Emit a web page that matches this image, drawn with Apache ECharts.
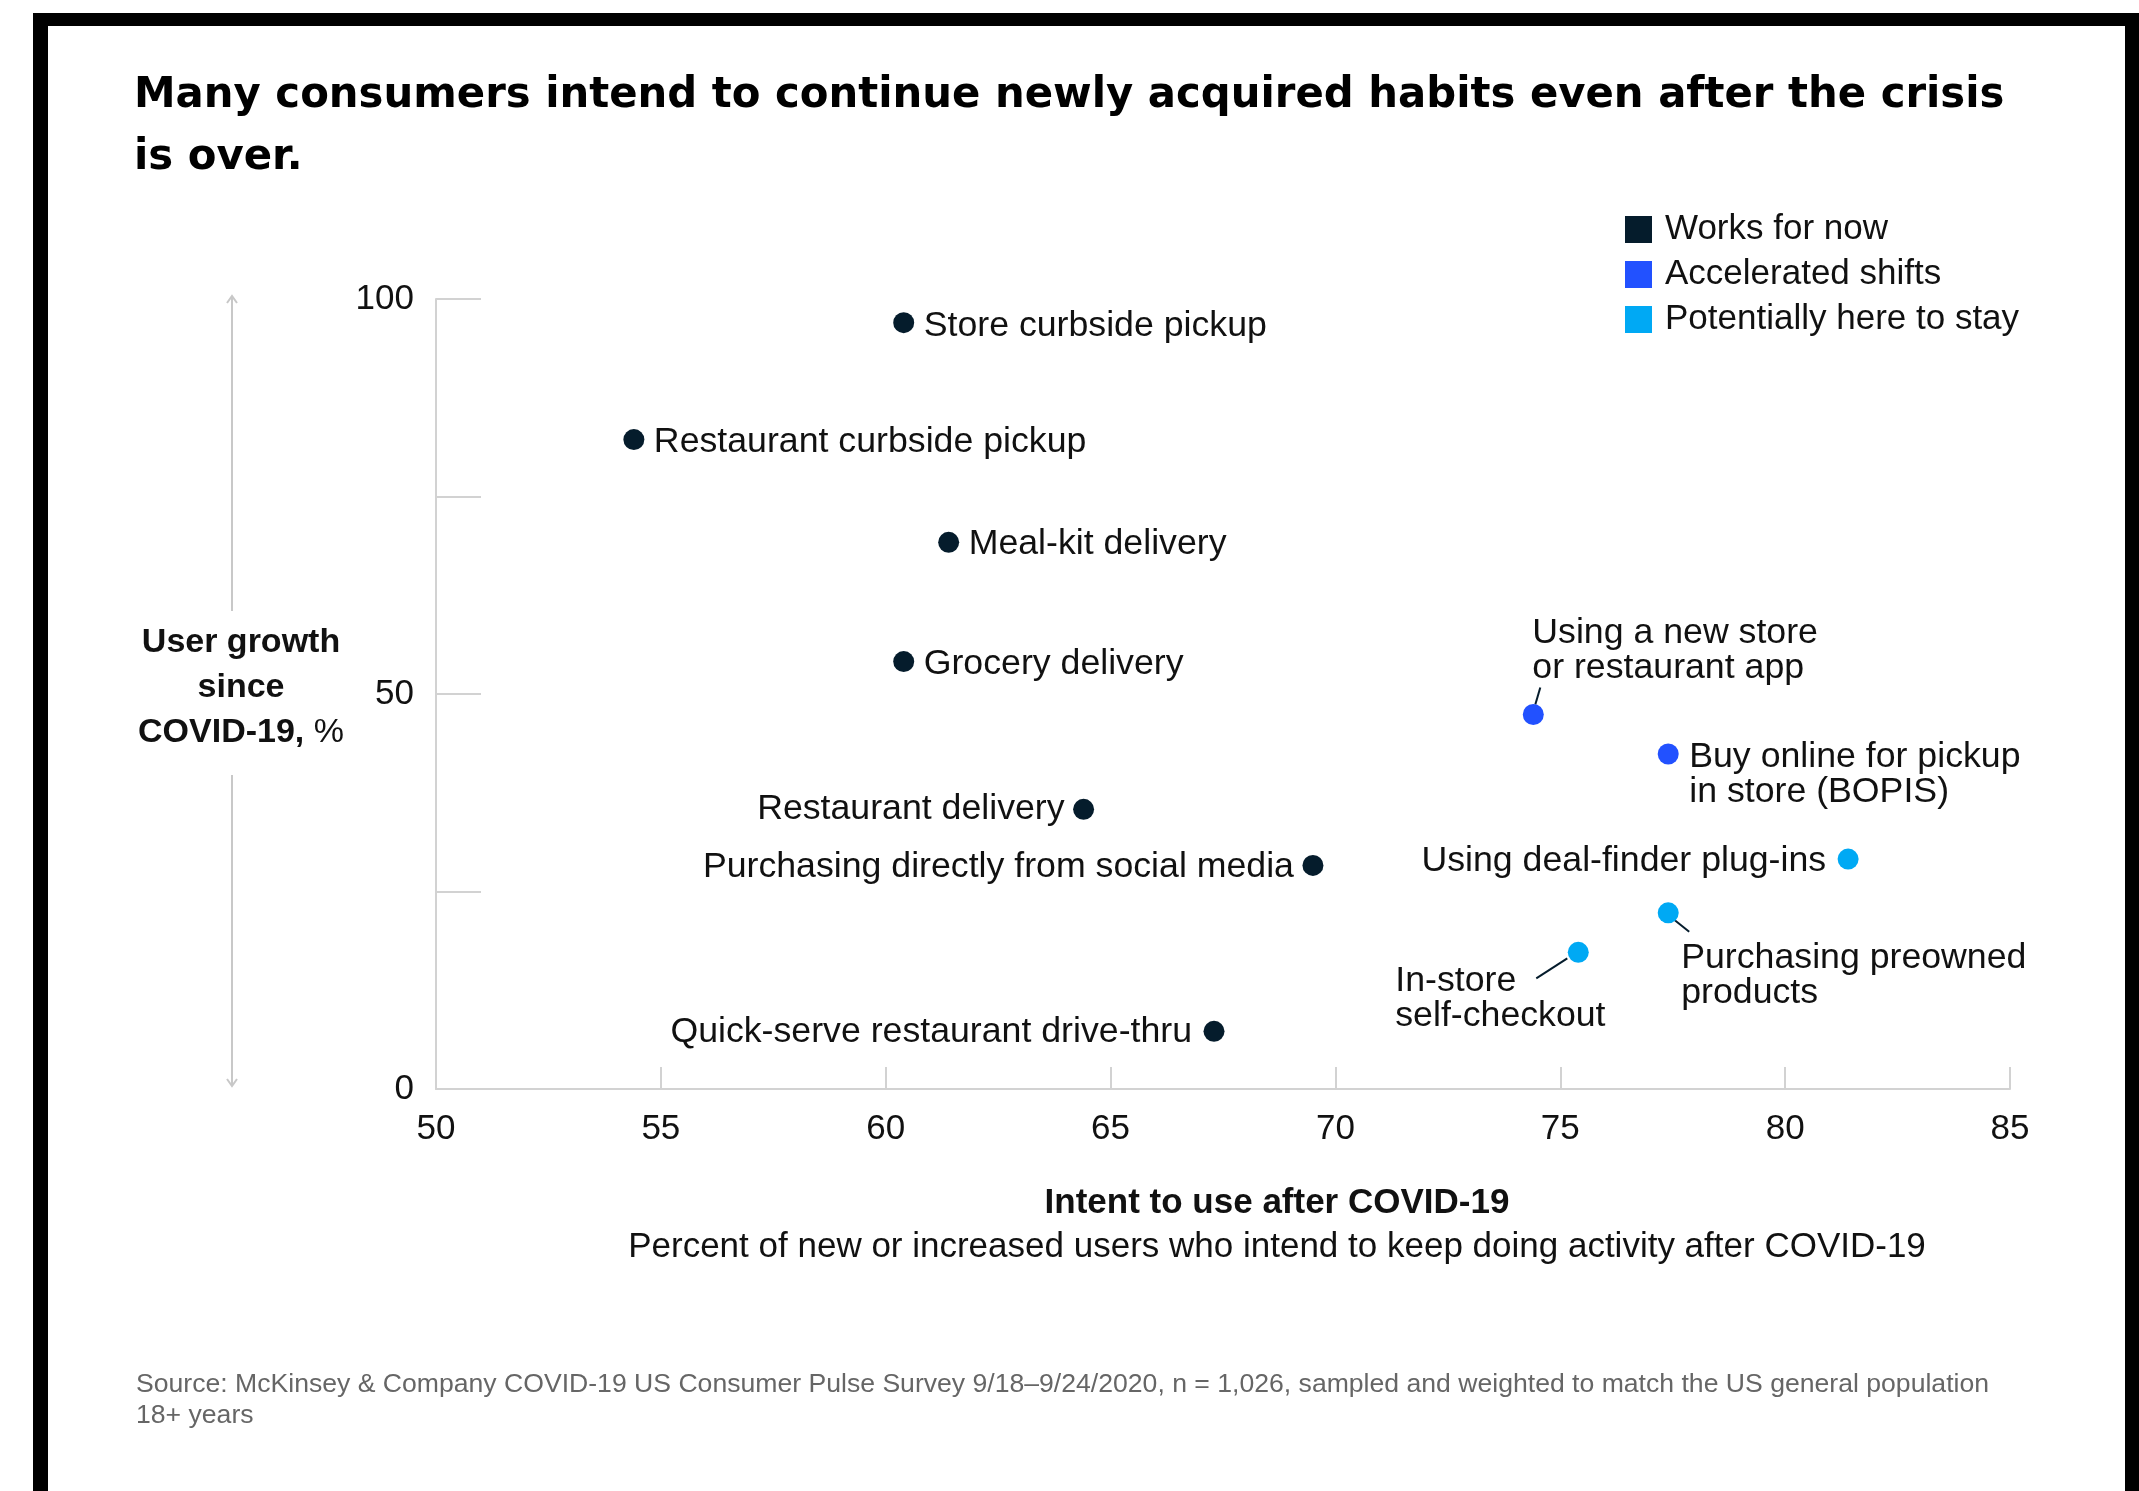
<!DOCTYPE html>
<html><head><meta charset="utf-8">
<script src="https://cdn.jsdelivr.net/npm/echarts@6/dist/echarts.min.js"></script>
<style>html,body{margin:0;padding:0;background:#fff}#c{width:2139px;height:1491px}</style>
</head><body><div id="c"></div>
<script>
// ---- data ----
const seriesNames = ['Works for now', 'Accelerated shifts', 'Potentially here to stay'];
const worksLabels = ['Store curbside pickup', 'Restaurant curbside pickup', 'Meal-kit delivery', 'Grocery delivery', 'Restaurant delivery', 'Purchasing directly from social media', 'Quick-serve restaurant drive-thru'];
const worksIntent = [60.4, 54.4, 61.4, 60.4, 64.4, 69.5, 67.3];
const worksGrowth = [97.0, 82.2, 69.2, 54.1, 35.4, 28.3, 7.3];
const accelLabels = ['Using a new store\nor restaurant app', 'Buy online for pickup\nin store (BOPIS)'];
const accelIntent = [74.4, 77.4];
const accelGrowth = [47.4, 42.4];
const stayLabels = ['Using deal-finder plug-ins', 'Purchasing preowned\nproducts', 'In-store\nself-checkout'];
const stayIntent = [81.4, 77.4, 75.4];
const stayGrowth = [29.1, 22.3, 17.3];
const yLabelValues = [0, 50, 100];

// ---- styles ----
const COLORS = ['#051c2c', '#2251ff', '#00a9f4'];
const FONT = '"Liberation Sans", Arial, sans-serif';
const TXT = '#111111';
const AXIS = '#d2d2d2';
// label placement relative to dot centre: [dx, dy, align, verticalAlign]
const place = {
  'Store curbside pickup': [20, 3, 'left', 'middle'],
  'Restaurant curbside pickup': [20, 3, 'left', 'middle'],
  'Meal-kit delivery': [20, 2, 'left', 'middle'],
  'Grocery delivery': [20, 3, 'left', 'middle'],
  'Restaurant delivery': [-19, 0, 'right', 'middle'],
  'Purchasing directly from social media': [-19, 2, 'right', 'middle'],
  'Quick-serve restaurant drive-thru': [-22, 1, 'right', 'middle'],
  'Using a new store\nor restaurant app': [-1, -29, 'left', 'bottom'],
  'Buy online for pickup\nin store (BOPIS)': [21, -14, 'left', 'top'],
  'Using deal-finder plug-ins': [-22, 2, 'right', 'middle'],
  'Purchasing preowned\nproducts': [13, 28, 'left', 'top'],
  'In-store\nself-checkout': [-183, 11, 'left', 'top']
};
// leader lines relative to dot centre: [x1, y1, x2, y2]
const leaders = {
  'Using a new store\nor restaurant app': [7, -27, 2, -10],
  'Purchasing preowned\nproducts': [6, 7, 21, 19],
  'In-store\nself-checkout': [-11, 6, -42, 26]
};

function items(labels, xs, ys) {
  return labels.map((n, i) => {
    const p = place[n];
    return {
      name: n, value: [xs[i], ys[i]],
      label: { show: true, position: 'inside', offset: [p[0], p[1]], align: p[2], verticalAlign: p[3],
        formatter: '{b}', color: TXT, fontSize: 35.7, lineHeight: 35, fontFamily: FONT }
    };
  });
}
const groups = [
  [worksLabels, worksIntent, worksGrowth],
  [accelLabels, accelIntent, accelGrowth],
  [stayLabels, stayIntent, stayGrowth]
];
const scatterSeries = groups.map((g, k) => ({
  name: seriesNames[k], type: 'scatter', symbol: 'circle', symbolSize: 21,
  itemStyle: { color: COLORS[k], opacity: 1 },
  data: items(g[0], g[1], g[2]), z: 3
}));
const leaderData = [];
groups.forEach(g => g[0].forEach((n, i) => { if (leaders[n]) leaderData.push({ name: n, value: [g[1][i], g[2][i]] }); }));

const chart = echarts.init(document.getElementById('c'), null, { renderer: 'canvas' });
chart.setOption({
  animation: false,
  backgroundColor: '#ffffff',
  grid: { left: 436, right: 129, top: 299, bottom: 402, containLabel: false },
  legend: {
    data: seriesNames, orient: 'vertical', left: 1625, top: 212, padding: 0,
    itemWidth: 27, itemHeight: 27, itemGap: 10, icon: 'rect', selectedMode: false,
    textStyle: { fontSize: 35, color: TXT, fontFamily: FONT, padding: [0, 0, 0, 8] }
  },
  xAxis: {
    type: 'value', min: 50, max: 85, interval: 5,
    axisLine: { show: true, lineStyle: { color: AXIS, width: 2 } },
    axisTick: { show: true, inside: true, length: 22, lineStyle: { color: AXIS, width: 2 } },
    axisLabel: { margin: 23, fontSize: 35, color: TXT, fontFamily: FONT },
    splitLine: { show: false }
  },
  yAxis: {
    type: 'value', min: 0, max: 100, interval: 25,
    axisLine: { show: true, lineStyle: { color: AXIS, width: 2 } },
    axisTick: { show: true, inside: true, length: 45, lineStyle: { color: AXIS, width: 2 } },
    axisLabel: { margin: 22, fontSize: 35, color: TXT, fontFamily: FONT,
      formatter: v => yLabelValues.indexOf(v) >= 0 ? String(v) : '' },
    splitLine: { show: false }
  },
  series: scatterSeries.concat([{
    type: 'custom', name: 'leaders', silent: true, z: 2,
    encode: { x: 0, y: 1 },
    data: leaderData,
    renderItem: (params, api) => {
      const p = api.coord([api.value(0), api.value(1)]);
      const o = leaders[leaderData[params.dataIndex].name];
      return { type: 'line', shape: { x1: p[0] + o[0], y1: p[1] + o[1], x2: p[0] + o[2], y2: p[1] + o[3] },
        style: { stroke: '#051c2c', lineWidth: 2 } };
    }
  }]),
  graphic: [
    { type: 'rect', shape: { x: 33, y: 13, width: 2106, height: 13 }, style: { fill: '#000' } },
    { type: 'rect', shape: { x: 33, y: 13, width: 15, height: 1478 }, style: { fill: '#000' } },
    { type: 'rect', shape: { x: 2125, y: 13, width: 14, height: 1478 }, style: { fill: '#000' } },
    { type: 'text', x: 134, y: 65, style: {
      text: 'Many consumers intend to continue newly acquired habits even after the crisis\nis over.',
      fontFamily: '"DejaVu Sans", sans-serif', fontWeight: 'bold', fontSize: 41.8, lineHeight: 62,
      fill: '#000', align: 'left', verticalAlign: 'top' } },
    { type: 'text', x: 241, y: 688, style: {
      text: '{b|User growth}\n{b|since}\n{b|COVID-19,}{r| %}',
      align: 'center', verticalAlign: 'middle', fill: TXT,
      rich: {
        b: { fontFamily: FONT, fontWeight: 'bold', fontSize: 34, lineHeight: 45, fill: TXT, color: TXT },
        r: { fontFamily: FONT, fontSize: 34, lineHeight: 45, fill: TXT, color: TXT }
      } } },
    { type: 'line', shape: { x1: 232, y1: 297, x2: 232, y2: 611 }, style: { stroke: '#c8c8c8', lineWidth: 2 } },
    { type: 'line', shape: { x1: 232, y1: 775, x2: 232, y2: 1085 }, style: { stroke: '#c8c8c8', lineWidth: 2 } },
    { type: 'polyline', shape: { points: [[227, 303], [232, 296], [237, 303]] }, style: { stroke: '#c8c8c8', lineWidth: 2, fill: null } },
    { type: 'polyline', shape: { points: [[227, 1079], [232, 1086], [237, 1079]] }, style: { stroke: '#c8c8c8', lineWidth: 2, fill: null } },
    { type: 'text', x: 1277, y: 1203, style: { text: 'Intent to use after COVID-19',
      fontFamily: FONT, fontWeight: 'bold', fontSize: 35, fill: TXT, align: 'center', verticalAlign: 'middle' } },
    { type: 'text', x: 1277, y: 1247, style: { text: 'Percent of new or increased users who intend to keep doing activity after COVID-19',
      fontFamily: FONT, fontSize: 35, fill: TXT, align: 'center', verticalAlign: 'middle' } },
    { type: 'text', x: 136, y: 1369, style: {
      text: 'Source: McKinsey & Company COVID-19 US Consumer Pulse Survey 9/18\u20139/24/2020, n = 1,026, sampled and weighted to match the US general population\n18+ years',
      fontFamily: FONT, fontSize: 26.6, lineHeight: 31, fill: '#666666', align: 'left', verticalAlign: 'top' } }
  ]
});
</script></body></html>
